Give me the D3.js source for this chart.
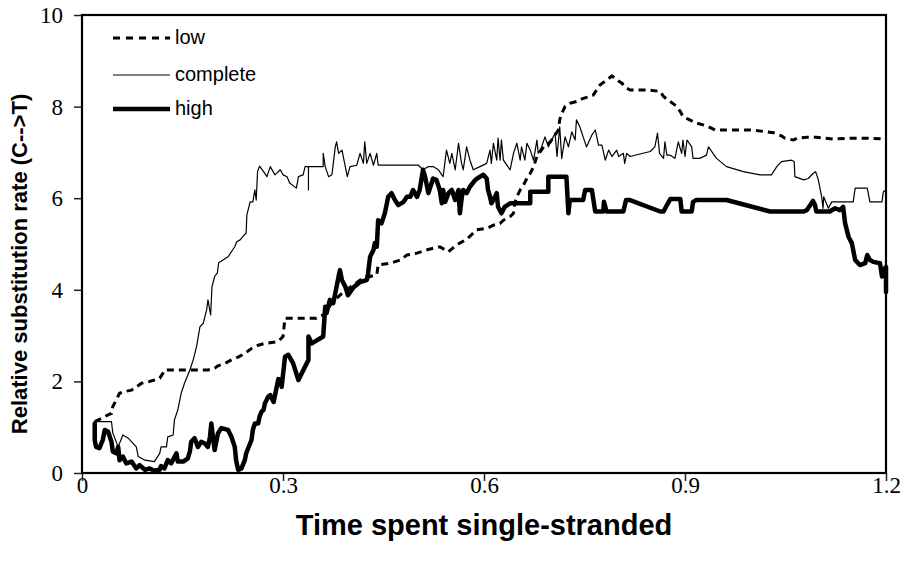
<!DOCTYPE html>
<html>
<head>
<meta charset="utf-8">
<script src="https://cdn.jsdelivr.net/npm/d3@7"></script>
<style>
  html, body { margin: 0; padding: 0; background: #fff; }
  svg { display: block; }
</style>
</head>
<body>
<svg id="chart" width="905" height="571"></svg>
<script>
// ---------------- DATA ----------------
const xTicks = [0, 0.3, 0.6, 0.9, 1.2];
const yTicks = [0, 2, 4, 6, 8, 10];
const seriesNames = ["low", "complete", "high"];
const xTitle = "Time spent single-stranded";
const yTitle = "Relative substitution rate (C-->T)";

// [time, rate]
const lowSeries = [
  [0.019,1.12],[0.029,1.19],[0.039,1.27],[0.044,1.30],[0.046,1.45],[0.051,1.59],[0.056,1.74],
  [0.064,1.78],[0.074,1.81],[0.081,1.88],[0.089,1.96],[0.099,1.99],[0.108,2.03],[0.116,2.07],
  [0.121,2.18],[0.123,2.25],[0.188,2.25],[0.198,2.29],[0.203,2.34],[0.213,2.39],[0.223,2.47],
  [0.233,2.53],[0.243,2.61],[0.253,2.72],[0.263,2.79],[0.273,2.83],[0.293,2.87],[0.300,2.98],
  [0.303,3.38],[0.350,3.38],[0.360,3.45],[0.375,3.75],[0.390,3.95],[0.405,4.10],[0.415,4.21],
  [0.430,4.29],[0.440,4.33],[0.442,4.54],[0.460,4.58],[0.475,4.65],[0.485,4.76],[0.500,4.80],
  [0.514,4.87],[0.534,4.94],[0.547,4.83],[0.559,4.98],[0.574,5.10],[0.589,5.31],[0.604,5.34],
  [0.614,5.41],[0.624,5.45],[0.629,5.52],[0.639,5.60],[0.644,5.67],[0.646,5.89],[0.649,6.03],
  [0.654,6.18],[0.659,6.29],[0.664,6.43],[0.669,6.54],[0.674,6.69],[0.679,6.91],[0.689,7.12],
  [0.699,7.23],[0.706,7.38],[0.711,7.49],[0.713,7.71],[0.716,7.85],[0.721,8.00],[0.728,8.07],
  [0.738,8.11],[0.748,8.18],[0.758,8.22],[0.763,8.25],[0.768,8.36],[0.773,8.47],[0.783,8.58],
  [0.791,8.67],[0.798,8.58],[0.806,8.51],[0.810,8.43],[0.818,8.36],[0.848,8.36],[0.863,8.33],
  [0.868,8.22],[0.878,8.11],[0.888,8.00],[0.893,7.89],[0.897,7.78],[0.907,7.71],[0.917,7.64],
  [0.927,7.60],[0.935,7.56],[0.945,7.49],[0.997,7.49],[1.022,7.45],[1.032,7.43],[1.044,7.36],
  [1.049,7.31],[1.062,7.27],[1.067,7.31],[1.082,7.33],[1.096,7.33],[1.121,7.29],[1.146,7.31],
  [1.172,7.31],[1.200,7.29]
];

const completeSeries = [
  [0.019,1.12],[0.044,1.12],[0.046,0.87],[0.054,0.57],[0.061,0.83],[0.069,0.76],[0.081,0.57],
  [0.084,0.36],[0.094,0.28],[0.108,0.25],[0.116,0.43],[0.118,0.57],[0.126,0.57],[0.128,0.79],
  [0.136,0.83],[0.138,1.16],[0.143,1.38],[0.148,1.74],[0.153,1.96],[0.161,2.25],[0.166,2.47],
  [0.171,2.76],[0.176,3.19],[0.181,3.27],[0.186,3.56],[0.188,3.78],[0.192,3.45],[0.194,4.07],
  [0.198,4.29],[0.202,4.37],[0.204,4.59],[0.218,4.72],[0.228,4.94],[0.231,5.05],[0.236,5.09],
  [0.240,5.16],[0.245,5.24],[0.246,5.63],[0.251,5.92],[0.255,5.92],[0.258,6.18],[0.260,5.96],
  [0.261,6.25],[0.262,6.58],[0.265,6.70],[0.271,6.58],[0.276,6.47],[0.281,6.69],[0.288,6.51],
  [0.296,6.62],[0.300,6.51],[0.306,6.47],[0.310,6.33],[0.320,6.22],[0.323,6.47],[0.330,6.51],
  [0.333,6.69],[0.338,6.69],[0.338,6.18],[0.338,6.69],[0.360,6.69],[0.360,6.98],[0.363,6.69],
  [0.368,6.47],[0.373,6.51],[0.378,7.12],[0.380,7.23],[0.383,6.98],[0.388,7.05],[0.393,6.69],
  [0.396,6.47],[0.400,6.69],[0.410,6.72],[0.415,6.98],[0.420,6.76],[0.422,7.23],[0.425,6.76],
  [0.430,6.98],[0.435,6.72],[0.440,6.98],[0.442,6.72],[0.502,6.72],[0.509,6.62],[0.517,6.69],
  [0.524,6.69],[0.532,6.62],[0.539,6.47],[0.544,7.05],[0.549,6.76],[0.552,6.98],[0.557,6.62],
  [0.562,7.20],[0.566,6.80],[0.569,6.62],[0.574,7.12],[0.579,6.83],[0.584,6.62],[0.594,6.69],
  [0.604,6.76],[0.609,7.05],[0.611,6.76],[0.614,7.20],[0.619,6.83],[0.621,7.31],[0.624,6.83],
  [0.626,7.27],[0.629,6.83],[0.639,6.62],[0.644,6.98],[0.649,7.20],[0.654,6.83],[0.656,7.12],
  [0.661,6.83],[0.664,7.20],[0.669,7.05],[0.674,6.83],[0.679,7.27],[0.681,6.98],[0.686,7.12],
  [0.691,7.34],[0.696,7.12],[0.701,7.27],[0.706,7.42],[0.709,6.91],[0.713,7.56],[0.716,6.87],
  [0.721,7.34],[0.726,7.12],[0.731,7.45],[0.736,7.27],[0.738,7.71],[0.743,7.56],[0.748,7.34],
  [0.753,7.12],[0.761,7.38],[0.766,7.49],[0.771,7.16],[0.776,7.16],[0.781,6.83],[0.786,7.05],
  [0.791,6.91],[0.798,7.05],[0.801,6.91],[0.808,6.98],[0.810,6.76],[0.813,6.98],[0.818,6.91],
  [0.848,7.02],[0.855,7.12],[0.859,7.42],[0.862,6.98],[0.868,6.87],[0.870,7.23],[0.873,6.94],
  [0.878,6.94],[0.885,6.87],[0.890,7.23],[0.895,6.98],[0.897,7.27],[0.900,6.91],[0.903,7.27],
  [0.910,7.12],[0.912,6.87],[0.922,6.87],[0.932,6.94],[0.935,7.12],[0.947,6.87],[0.962,6.69],
  [0.987,6.58],[1.012,6.51],[1.029,6.51],[1.037,6.69],[1.044,6.80],[1.059,6.83],[1.063,6.80],
  [1.064,6.47],[1.077,6.40],[1.084,6.43],[1.091,6.54],[1.095,6.58],[1.099,6.40],[1.104,6.03],
  [1.106,5.78],[1.107,6.03],[1.111,5.89],[1.114,5.78],[1.119,5.92],[1.151,5.92],[1.154,6.22],
  [1.172,6.22],[1.176,5.92],[1.194,5.92],[1.196,6.14],[1.200,6.18]
];

const highSeries = [
  [0.019,1.08],[0.019,0.72],[0.021,0.57],[0.026,0.54],[0.031,0.72],[0.034,0.94],[0.039,0.90],
  [0.044,0.68],[0.046,0.47],[0.051,0.43],[0.054,0.57],[0.056,0.28],[0.061,0.36],[0.066,0.21],
  [0.074,0.25],[0.081,0.10],[0.086,0.17],[0.094,0.07],[0.101,0.10],[0.108,0.05],[0.116,0.07],
  [0.118,0.15],[0.123,0.10],[0.128,0.28],[0.133,0.21],[0.141,0.43],[0.143,0.25],[0.151,0.25],
  [0.158,0.32],[0.161,0.47],[0.163,0.68],[0.168,0.76],[0.173,0.57],[0.178,0.68],[0.183,0.65],
  [0.188,0.57],[0.191,0.79],[0.193,1.08],[0.196,0.72],[0.198,0.50],[0.203,0.87],[0.208,0.98],
  [0.218,0.94],[0.223,0.79],[0.228,0.57],[0.230,0.28],[0.233,0.07],[0.238,0.10],[0.243,0.28],
  [0.245,0.43],[0.248,0.54],[0.253,0.72],[0.255,0.94],[0.258,1.08],[0.263,1.08],[0.265,1.23],
  [0.268,1.34],[0.271,1.38],[0.273,1.52],[0.278,1.67],[0.281,1.70],[0.286,1.55],[0.293,2.05],
  [0.296,2.03],[0.298,1.88],[0.303,2.54],[0.308,2.58],[0.315,2.40],[0.323,2.03],[0.328,2.18],
  [0.338,2.47],[0.338,2.98],[0.343,2.83],[0.360,2.98],[0.363,3.63],[0.365,3.49],[0.370,3.78],
  [0.375,3.71],[0.380,4.07],[0.383,4.29],[0.385,4.43],[0.388,4.21],[0.393,4.07],[0.397,3.88],
  [0.405,4.05],[0.415,4.17],[0.425,4.21],[0.427,4.36],[0.430,4.72],[0.435,4.87],[0.437,5.02],
  [0.440,4.94],[0.442,5.52],[0.447,5.45],[0.452,5.67],[0.457,6.03],[0.462,6.11],[0.467,5.96],
  [0.472,5.85],[0.480,5.92],[0.485,6.03],[0.490,6.03],[0.494,6.18],[0.500,6.03],[0.504,6.18],
  [0.509,6.62],[0.512,6.47],[0.517,6.11],[0.524,6.43],[0.529,6.40],[0.534,6.18],[0.537,5.89],
  [0.539,6.18],[0.542,5.92],[0.547,6.11],[0.552,6.18],[0.557,5.96],[0.562,6.18],[0.564,5.67],
  [0.567,6.03],[0.569,6.18],[0.574,6.11],[0.579,6.25],[0.587,6.40],[0.594,6.47],[0.599,6.51],
  [0.604,6.43],[0.606,6.18],[0.609,6.03],[0.611,5.89],[0.614,5.96],[0.619,6.11],[0.621,5.81],
  [0.626,5.67],[0.631,5.81],[0.639,5.89],[0.669,5.89],[0.669,6.14],[0.696,6.14],[0.696,6.47],
  [0.723,6.47],[0.726,5.67],[0.728,5.96],[0.748,5.96],[0.751,6.18],[0.761,6.18],[0.766,5.71],
  [0.778,5.71],[0.779,5.92],[0.783,5.71],[0.808,5.71],[0.812,5.96],[0.818,5.96],[0.863,5.71],
  [0.868,5.71],[0.873,5.85],[0.878,5.98],[0.893,5.98],[0.895,5.71],[0.910,5.71],[0.912,5.92],
  [0.917,5.96],[0.962,5.96],[1.027,5.71],[1.077,5.71],[1.082,5.74],[1.091,5.94],[1.094,5.85],
  [1.096,5.71],[1.101,5.71],[1.116,5.71],[1.124,5.78],[1.131,5.74],[1.136,5.81],[1.139,5.45],
  [1.144,5.16],[1.149,5.02],[1.154,4.65],[1.161,4.54],[1.169,4.58],[1.172,4.76],[1.176,4.65],
  [1.181,4.61],[1.191,4.58],[1.194,4.29],[1.196,4.43],[1.200,4.50],[1.200,3.95]
];

// ---------------- DRAWING ----------------
(function () {
const svg = d3.select("#chart");
const W = 905, H = 571;
const mLeft = 82, mRight = 886, mTop = 15, mBottom = 473;

const x = d3.scaleLinear().domain([0, 1.2]).range([mLeft, mRight]);
const y = d3.scaleLinear().domain([0, 10]).range([mBottom, mTop]);

svg.append("rect").attr("width", W).attr("height", H).attr("fill", "#fff");

const serif = "'Times New Roman', 'Liberation Serif', serif";
const sans = "Arial, 'Liberation Sans', Helvetica, sans-serif";

// Axes
const yAxis = svg.append("g")
  .attr("transform", `translate(${mLeft},0)`)
  .call(d3.axisLeft(y).tickValues(yTicks).tickSize(8).tickPadding(11).tickFormat(d3.format("d")));
yAxis.select(".domain").remove();
yAxis.selectAll(".tick line").attr("stroke", "#222").attr("stroke-width", 1.5);
yAxis.selectAll(".tick text")
  .attr("font-family", serif).attr("font-size", 23).attr("fill", "#000")
  .attr("dy", "0.33em");

const xAxis = svg.append("g")
  .attr("transform", `translate(0,${mBottom})`)
  .call(d3.axisBottom(x).tickValues(xTicks).tickSize(8)
        .tickFormat(d => d === 0 ? "0" : d3.format(".1f")(d)));
xAxis.select(".domain").remove();
xAxis.selectAll(".tick line").attr("stroke", "#222").attr("stroke-width", 1.5);
xAxis.selectAll(".tick text")
  .attr("font-family", serif).attr("font-size", 23).attr("fill", "#000")
  .attr("y", 20).attr("dy", "0");

// Lines
const line = d3.line().x(d => x(d[0])).y(d => y(d[1]));

const plot = svg.append("g");
plot.append("path").datum(completeSeries)
  .attr("d", line).attr("fill", "none").attr("stroke", "#000")
  .attr("stroke-width", 1.2).attr("stroke-linejoin", "round");
plot.append("path").datum(lowSeries)
  .attr("d", line).attr("fill", "none").attr("stroke", "#000")
  .attr("stroke-width", 3).attr("stroke-dasharray", "7,5");
plot.append("path").datum(highSeries)
  .attr("d", line).attr("fill", "none").attr("stroke", "#000")
  .attr("stroke-width", 4.5).attr("stroke-linejoin", "round").attr("stroke-linecap", "round");

// Plot border
svg.append("rect")
  .attr("x", mLeft).attr("y", mTop)
  .attr("width", mRight - mLeft).attr("height", mBottom - mTop)
  .attr("fill", "none").attr("stroke", "#000").attr("stroke-width", 2.2);

// Legend
const legendY = [38, 75, 109];
const legendStyles = [
  { w: 3, dash: "7,6" },
  { w: 1.2, dash: null },
  { w: 4.5, dash: null }
];
const lg = svg.append("g");
seriesNames.forEach((name, i) => {
  const l = lg.append("line")
    .attr("x1", 113).attr("x2", 170)
    .attr("y1", legendY[i]).attr("y2", legendY[i])
    .attr("stroke", "#000").attr("stroke-width", legendStyles[i].w);
  if (legendStyles[i].dash) l.attr("stroke-dasharray", legendStyles[i].dash);
  lg.append("text")
    .attr("x", 175).attr("y", legendY[i] + 6)
    .attr("font-family", sans).attr("font-size", 20)
    .attr("fill", "#000").text(name);
});

// Axis titles
svg.append("text")
  .attr("x", 484).attr("y", 535)
  .attr("text-anchor", "middle")
  .attr("font-family", sans).attr("font-size", 29).attr("font-weight", "bold")
  .text(xTitle);

svg.append("text")
  .attr("transform", `translate(27,264) rotate(-90)`)
  .attr("text-anchor", "middle")
  .attr("font-family", sans).attr("font-size", 22).attr("font-weight", "bold")
  .text(yTitle);
})();
</script>
</body>
</html>
